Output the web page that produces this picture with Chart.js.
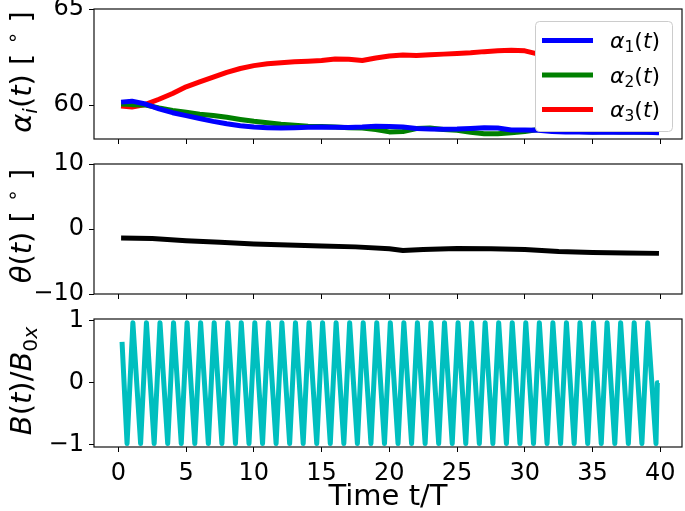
<!DOCTYPE html>
<html>
<head>
<meta charset="utf-8">
<script src="https://cdn.jsdelivr.net/npm/chart.js@4.4.1/dist/chart.umd.min.js"></script>
<style>
  html, body { margin: 0; padding: 0; background: #fff; }
  #wrap { position: relative; width: 685px; height: 511px; }
  .panel { position: absolute; left: 0; width: 685px; }
</style>
</head>
<body>
<div id="wrap">
  <div class="panel" style="top:0;height:152px"><canvas id="chart-alpha"></canvas></div>
  <div class="panel" style="top:152px;height:154px"><canvas id="chart-theta"></canvas></div>
  <div class="panel" style="top:306px;height:205px"><canvas id="chart-b"></canvas></div>
</div>
<script>
// time axis (t/T)
const xTicks = [0, 5, 10, 15, 20, 25, 30, 35, 40];

// panel 1 - angles alpha_i(t), degrees
const alphaTime = [0.2, 1, 2, 3, 4, 5, 6, 7, 8, 9, 10, 11, 12, 13, 14, 15, 16, 17, 18, 19, 20,
  21, 22, 23, 24, 25, 26, 27, 28, 29, 30, 31, 32, 33, 34, 35, 36, 37, 38, 39, 39.9];
const alpha1 = [60.15, 60.2, 60.05, 59.8, 59.6, 59.45, 59.3, 59.15, 59.02, 58.92, 58.85, 58.82, 58.8, 58.82, 58.84,
  58.85, 58.84, 58.83, 58.85, 58.9, 58.88, 58.85, 58.78, 58.75, 58.74, 58.75, 58.78, 58.82, 58.8, 58.7, 58.7,
  58.68, 58.62, 58.6, 58.6, 58.58, 58.6, 58.58, 58.6, 58.58, 58.55];
const alpha2 = [60.05, 60.02, 60.0, 59.85, 59.72, 59.62, 59.52, 59.45, 59.36, 59.25, 59.15, 59.08, 59.0, 58.95, 58.9,
  58.88, 58.85, 58.82, 58.8, 58.72, 58.6, 58.62, 58.78, 58.8, 58.72, 58.68, 58.58, 58.5, 58.5, 58.55, 58.62,
  58.72, 58.68, 58.65, 58.62, 58.6, 58.62, 58.6, 58.6, 58.58, 58.58];
const alpha3 = [59.95, 59.9, 60.03, 60.3, 60.6, 60.95, 61.2, 61.45, 61.7, 61.9, 62.05, 62.15, 62.2, 62.25, 62.28,
  62.32, 62.4, 62.38, 62.32, 62.45, 62.55, 62.6, 62.58, 62.62, 62.65, 62.68, 62.72, 62.78, 62.82, 62.85, 62.82,
  62.65, 62.7, 62.75, 62.8, 62.8, 62.85, 62.8, 62.85, 62.9, 62.9];
const alphaTicks = [60, 65];

// panel 2 - theta(t), degrees
const thetaTime = [0.2, 2.5, 5, 7.5, 10, 12.5, 15, 17.5, 20, 21, 22.5, 25, 27.5, 30, 32.5, 35, 37.5, 39.9];
const theta = [-1.4, -1.45, -1.8, -2.05, -2.3, -2.45, -2.6, -2.75, -3.05, -3.3, -3.15, -3.0, -3.05, -3.15, -3.45, -3.62, -3.68, -3.75];
const thetaTicks = [-10, 0, 10];

// panel 3 - B(t)/B0x
const bTime = [0.27, 0.64, 1.07, 1.64, 2.07, 2.64, 3.07, 3.64, 4.07, 4.64, 5.07, 5.64, 6.07, 6.64, 7.07, 7.64,
  8.07, 8.64, 9.07, 9.64, 10.07, 10.64, 11.07, 11.64, 12.07, 12.64, 13.07, 13.64, 14.07, 14.64, 15.07, 15.64,
  16.07, 16.64, 17.07, 17.64, 18.07, 18.64, 19.07, 19.64, 20.07, 20.64, 21.07, 21.64, 22.07, 22.64, 23.07, 23.64,
  24.07, 24.64, 25.07, 25.64, 26.07, 26.64, 27.07, 27.64, 28.07, 28.64, 29.07, 29.64, 30.07, 30.64, 31.07, 31.64,
  32.07, 32.64, 33.07, 33.64, 34.07, 34.64, 35.07, 35.64, 36.07, 36.64, 37.07, 37.64, 38.07, 38.64, 39.07, 39.68,
  39.78, 39.9];
const bValue = [0.66, -0.98, 0.97, -0.98, 0.97, -0.98, 0.97, -0.98, 0.97, -0.98, 0.97, -0.98, 0.97, -0.98, 0.97, -0.98,
  0.97, -0.98, 0.97, -0.98, 0.97, -0.98, 0.97, -0.98, 0.97, -0.98, 0.97, -0.98, 0.97, -0.98, 0.97, -0.98,
  0.97, -0.98, 0.97, -0.98, 0.97, -0.98, 0.97, -0.98, 0.97, -0.98, 0.97, -0.98, 0.97, -0.98, 0.97, -0.98,
  0.97, -0.98, 0.97, -0.98, 0.97, -0.98, 0.97, -0.98, 0.97, -0.98, 0.97, -0.98, 0.97, -0.98, 0.97, -0.98,
  0.97, -0.98, 0.97, -0.98, 0.97, -0.98, 0.97, -0.98, 0.97, -0.98, 0.97, -0.98, 0.97, -0.98, 0.97, -0.98,
  0, 0];
const bTicks = [-1, 0, 1];

const FONT = "'DejaVu Sans', sans-serif";
const AXIS_W = 94;
const TICK_SIZE = 24;
const LABEL_SIZE = 29;

function pts(xs, ys) {
  return xs.map((x, i) => ({ x: x, y: ys[i] }));
}

function minus(v) {
  return v < 0 ? '\u2212' + Math.abs(v) : String(v);
}

// кусочный текст: курсив, индексы
function drawRich(ctx, pieces, x, y, size) {
  let cx = x;
  pieces.forEach(p => {
    const s = p.sub || p.sup ? size * 0.7 : size;
    ctx.font = (p.i ? 'italic ' : '') + s + 'px ' + FONT;
    let dy = 0;
    if (p.sub) dy = size * 0.2;
    if (p.sup) dy = -size * 0.42;
    ctx.fillText(p.t, cx, y + dy);
    cx += ctx.measureText(p.t).width;
  });
  return cx - x;
}

function richWidth(ctx, pieces, size) {
  let w = 0;
  pieces.forEach(p => {
    const s = p.sub || p.sup ? size * 0.7 : size;
    ctx.font = (p.i ? 'italic ' : '') + s + 'px ' + FONT;
    w += ctx.measureText(p.t).width;
  });
  return w;
}

// рамка вокруг области графика
const framePlugin = {
  id: 'frame',
  afterDraw(chart) {
    const a = chart.chartArea;
    const ctx = chart.ctx;
    ctx.save();
    ctx.strokeStyle = '#111';
    ctx.lineWidth = 1.2;
    ctx.strokeRect(a.left, a.top, a.right - a.left, a.bottom - a.top);
    ctx.restore();
  }
};

// повернутая подпись оси Y
const yLabelPlugin = {
  id: 'yLabel',
  afterDraw(chart, args, opts) {
    const ctx = chart.ctx;
    ctx.save();
    ctx.fillStyle = '#000';
    ctx.textBaseline = 'alphabetic';
    const w = richWidth(ctx, opts.pieces, opts.size);
    ctx.translate(opts.x, opts.cy);
    ctx.rotate(-Math.PI / 2);
    drawRich(ctx, opts.pieces, -w / 2, 0, opts.size);
    ctx.restore();
  }
};

// легенда как в matplotlib
const legendPlugin = {
  id: 'mplLegend',
  afterDraw(chart, args, opts) {
    const ctx = chart.ctx;
    const b = opts.box;
    ctx.save();
    ctx.beginPath();
    ctx.roundRect(b.x, b.y, b.w, b.h, 4);
    ctx.fillStyle = '#fff';
    ctx.fill();
    ctx.strokeStyle = '#ccc';
    ctx.lineWidth = 1;
    ctx.stroke();
    chart.data.datasets.forEach((ds, i) => {
      const y = opts.rows[i];
      ctx.beginPath();
      ctx.moveTo(opts.lineX0, y);
      ctx.lineTo(opts.lineX1, y);
      ctx.strokeStyle = ds.borderColor;
      ctx.lineWidth = 5;
      ctx.stroke();
      ctx.fillStyle = '#000';
      ctx.textBaseline = 'alphabetic';
      drawRich(ctx, opts.labels[i], opts.textX, y + 7.5, opts.size);
    });
    ctx.restore();
  }
};

function xScale(showLabels, height) {
  return {
    type: 'linear',
    min: -1.8,
    max: 41.6,
    afterBuildTicks: s => { s.ticks = xTicks.map(v => ({ value: v })); },
    afterFit: s => {
      s.height = height;
      s.paddingLeft = 0;
      s.paddingRight = 0;
    },
    ticks: {
      display: showLabels,
      color: '#000',
      padding: 7,
      maxRotation: 0,
      font: { family: FONT, size: TICK_SIZE }
    },
    grid: { drawOnChartArea: false, drawTicks: true, tickLength: 5, color: '#000', lineWidth: 1 },
    border: { display: false },
    title: {
      display: showLabels,
      text: 'Time t/T',
      color: '#000',
      font: { family: FONT, size: LABEL_SIZE },
      padding: { top: 0, bottom: -4 }
    }
  };
}

function yScale(min, max, ticks) {
  return {
    min: min,
    max: max,
    afterBuildTicks: s => { s.ticks = ticks.map(v => ({ value: v })); },
    afterFit: s => {
      s.width = AXIS_W;
      s.paddingTop = 0;
      s.paddingBottom = 0;
    },
    ticks: {
      color: '#000',
      padding: 5,
      font: { family: FONT, size: TICK_SIZE },
      callback: v => minus(v)
    },
    grid: { drawOnChartArea: false, drawTicks: true, tickLength: 5, color: '#000', lineWidth: 1 },
    border: { display: false }
  };
}

function lineSet(label, data, color) {
  return {
    label: label,
    data: data,
    borderColor: color,
    backgroundColor: color,
    borderWidth: 5,
    pointRadius: 0,
    tension: 0,
    borderJoinStyle: 'round',
    borderCapStyle: 'butt',
    clip: 0
  };
}

function baseOptions(padTop, xHeight, showX, yMin, yMax, yTicks, yLabel) {
  return {
    responsive: true,
    maintainAspectRatio: false,
    animation: false,
    layout: { padding: { top: padTop, left: 0, right: 3, bottom: 0 } },
    scales: {
      x: xScale(showX, xHeight),
      y: yScale(yMin, yMax, yTicks)
    },
    plugins: {
      legend: { display: false },
      tooltip: { enabled: false },
      yLabel: yLabel
    }
  };
}

const alphaOpts = baseOptions(9, 13, false, 58.23, 65, alphaTicks, {
  x: 31, cy: 72,
  size: LABEL_SIZE,
  pieces: [
    { t: 'α', i: true }, { t: 'i', i: true, sub: true }, { t: '(' }, { t: 't', i: true }, { t: ')' },
    { t: ' [ ' }, { t: '∘', sup: true }, { t: ' ]' }
  ]
});
alphaOpts.plugins.mplLegend = {
  box: { x: 535.5, y: 21.5, w: 137, h: 110 },
  rows: [40.5, 75, 109.5],
  lineX0: 542, lineX1: 593, textX: 610, size: 22,
  labels: [
    [{ t: 'α', i: true }, { t: '1', sub: true }, { t: '(' }, { t: 't', i: true }, { t: ')' }],
    [{ t: 'α', i: true }, { t: '2', sub: true }, { t: '(' }, { t: 't', i: true }, { t: ')' }],
    [{ t: 'α', i: true }, { t: '3', sub: true }, { t: '(' }, { t: 't', i: true }, { t: ')' }]
  ]
};

new Chart(document.getElementById('chart-alpha'), {
  type: 'line',
  data: {
    datasets: [
      lineSet('α1(t)', pts(alphaTime, alpha1), '#0000ff'),
      lineSet('α2(t)', pts(alphaTime, alpha2), '#008000'),
      lineSet('α3(t)', pts(alphaTime, alpha3), '#ff0000')
    ]
  },
  options: alphaOpts,
  plugins: [framePlugin, yLabelPlugin, legendPlugin]
});

new Chart(document.getElementById('chart-theta'), {
  type: 'line',
  data: { datasets: [lineSet('θ(t)', pts(thetaTime, theta), '#000000')] },
  options: baseOptions(12, 12, false, -10, 10, thetaTicks, {
    x: 31, cy: 226 - 152,
    size: LABEL_SIZE,
    pieces: [
      { t: 'θ', i: true }, { t: '(' }, { t: 't', i: true }, { t: ')' },
      { t: ' [ ' }, { t: '∘', sup: true }, { t: ' ]' }
    ]
  }),
  plugins: [framePlugin, yLabelPlugin]
});

new Chart(document.getElementById('chart-b'), {
  type: 'line',
  data: { datasets: [lineSet('B(t)/B0x', pts(bTime, bValue), '#00bfbf')] },
  options: baseOptions(13, 64, true, -1.035, 1.03, bTicks, {
    x: 31, cy: 381 - 306,
    size: LABEL_SIZE,
    pieces: [
      { t: 'B', i: true }, { t: '(' }, { t: 't', i: true }, { t: ')' }, { t: '/' },
      { t: 'B', i: true }, { t: '0', sub: true }, { t: 'x', i: true, sub: true }
    ]
  }),
  plugins: [framePlugin, yLabelPlugin]
});
</script>
</body>
</html>
